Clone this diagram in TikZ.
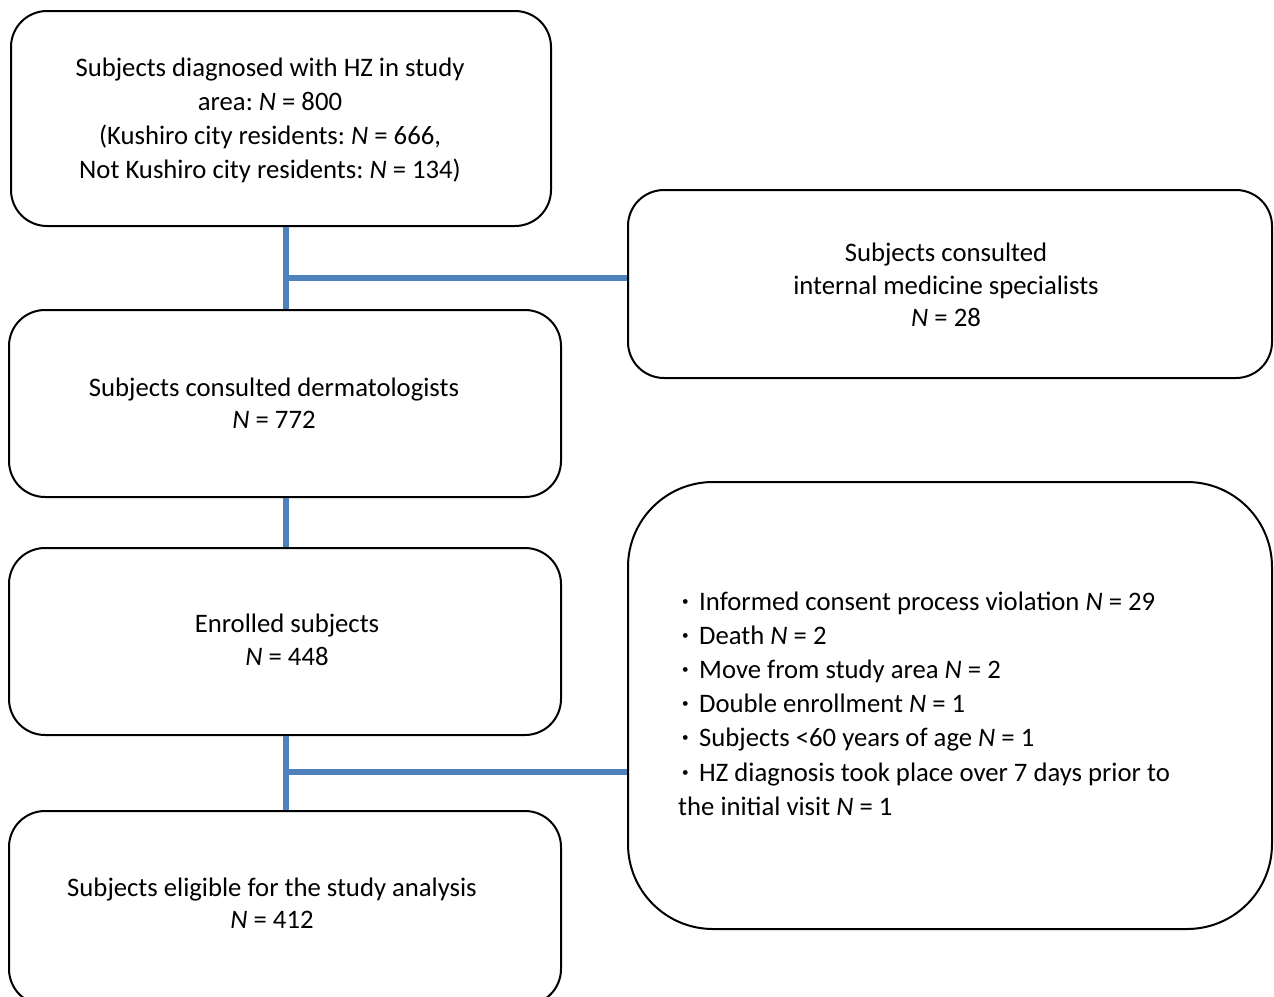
\documentclass[tikz,border=0pt]{standalone}
\usepackage{fontspec}
\setmainfont{Carlito}
\newfontfamily\cjk{Noto Sans CJK JP}
\usetikzlibrary{calc}
\frenchspacing
\definecolor{linkblue}{HTML}{4F81BD}
\newcommand{\bul}{\makebox[21pt][l]{\hspace*{-4pt}{\cjk\fontsize{22.5}{32.5}\selectfont ・}}}
\tikzset{
  box/.style={draw=black, line width=2pt, rounded corners=36pt, fill=white, inner sep=0pt},
  bigbox/.style={box, rounded corners=85pt},
  txt/.style={align=center, font=\fontsize{26.7}{32.5}\selectfont, inner sep=0pt},
  link/.style={draw=linkblue, line width=6.5pt}
}
\begin{document}
\begin{tikzpicture}[x=1pt, y=-1pt]
\useasboundingbox (0,0) rectangle (1274,996);
\clip (0,0) rectangle (1274,996);
\coordinate (j1) at (286,278);
\coordinate (j2) at (286,772);
% boxes
\node[box, minimum width=540pt, minimum height=215pt] (b1) at (281,118.5) {};
\node[box, minimum width=644pt, minimum height=188pt] (b2) at (950,284) {};
\node[box, minimum width=552pt, minimum height=187pt] (b3) at (285,403.5) {};
\node[box, minimum width=552pt, minimum height=187pt] (b4) at (285,641.5) {};
\node[box, minimum width=552pt, minimum height=194pt] (b5) at (285,908) {};
\node[bigbox, minimum width=644pt, minimum height=447pt] (b6) at (950,705.5) {};
% connectors
\draw[link] (j1 |- b1.south) -- (j1 |- b3.north);
\draw[link] (j1) -- (b2.west |- j1);
\draw[link] (j1 |- b3.south) -- (j1 |- b4.north);
\draw[link] (j2 |- b4.south) -- (j2 |- b5.north);
\draw[link] (j2) -- (b6.west |- j2);
% texts
\node[txt, font=\fontsize{26.7}{34}\selectfont] (t1) at (270,120) {Subjects diagnosed with HZ in study\\area: \textit{N} = 800\\(Kushiro city residents: \textit{N} = 666,\\Not Kushiro city residents: \textit{N} = 134)};
\node[txt] (t2) at (946,285) {Subjects consulted\\internal medicine specialists\\\textit{N} = 28};
\node[txt] (t3) at (274,403) {Subjects consulted dermatologists\\\textit{N} = 772};
\node[txt] (t4) at (287,640) {Enrolled subjects\\\textit{N} = 448};
\node[txt] (t5) at (272,903) {Subjects eligible for the study analysis\\\textit{N} = 412};
\node[txt, align=left, anchor=west, font=\fontsize{26.7}{34.2}\selectfont] (t6) at (678,703.5) {\bul Informed consent process violation \textit{N} = 29\\
\bul Death \textit{N} = 2\\
\bul Move from study area \textit{N} = 2\\
\bul Double enrollment \textit{N} = 1\\
\bul Subjects <60 years of age \textit{N} = 1\\
\bul HZ diagnosis took place over 7 days prior to\\
the initial visit \textit{N} = 1};
\end{tikzpicture}
\end{document}
